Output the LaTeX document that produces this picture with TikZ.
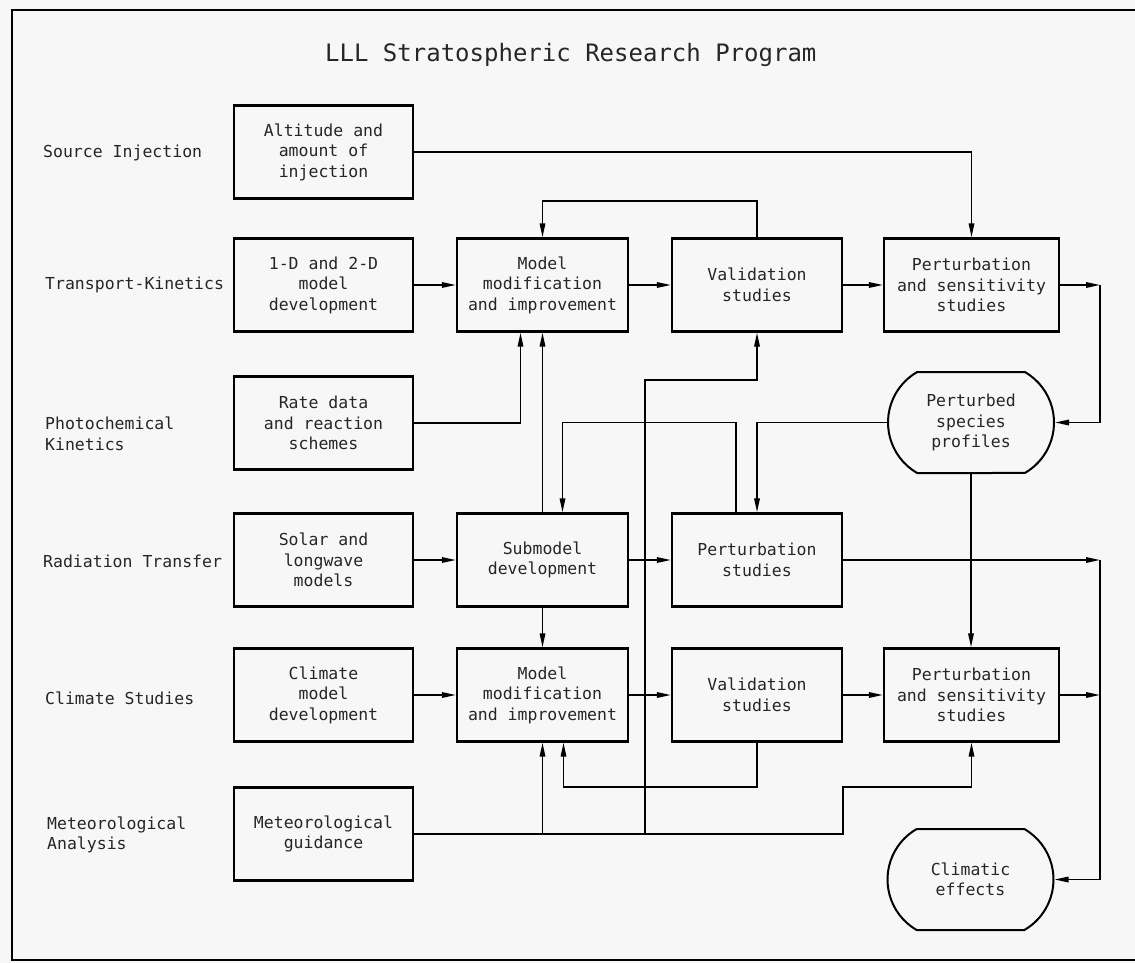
\documentclass[tikz,border=0pt]{standalone}
\usepackage{fontspec}
\setmonofont{DejaVu Sans Mono}
\usetikzlibrary{arrows.meta,shapes.misc,calc}
\begin{document}
\begin{tikzpicture}[x=1pt,y=-1pt,
  every node/.style={font=\ttfamily\fontsize{16.5}{20.5}\selectfont,text=black!85},
  box/.style={draw,line width=2.3pt,rectangle,minimum height=93pt,align=center,inner sep=2pt},
  colA/.style={box,minimum width=179pt},
  colB/.style={box,minimum width=171pt},
  colC/.style={box,minimum width=170pt},
  colD/.style={box,minimum width=175pt},
  barrel/.style={draw,line width=2pt,rounded rectangle,rounded rectangle arc length=120,
     minimum width=170pt,minimum height=101pt,align=center,inner sep=2pt},
  lbl/.style={anchor=west,align=left,inner sep=0pt},
  conn/.style={line width=1.6pt},
  arr/.style={conn,-{Triangle[length=14pt,width=5.5pt]}},
]
\useasboundingbox (0,0) rectangle (1135,963);
\fill[black!3] (-20,-20) rectangle (1160,990);
\draw[line width=1.6pt] (1160,10) -- (12,10) -- (12,960) -- (1160,960);

\node[font=\ttfamily\fontsize{24}{28}\selectfont,anchor=west,inner sep=0pt] (title) at (325,55) {LLL Stratospheric Research Program};

% row labels
\node[lbl] (lsrc) at (43,153) {Source Injection};
\node[lbl] (ltk) at (45,285) {Transport-Kinetics};
\node[lbl] (lpk) at (45,434) {Photochemical\\Kinetics};
\node[lbl] (lrt) at (43,561) {Radiation Transfer};
\node[lbl] (lcs) at (45,698) {Climate Studies};
\node[lbl] (lma) at (47,835) {Meteorological\\Analysis};

% column 1
\node[colA] (alt) at (323.5,152) {Altitude and\\amount of\\injection};
\node[colA] (t1) at (323.5,285) {1-D and 2-D\\model\\development};
\node[colA] (rate) at (323.5,423) {Rate data\\and reaction\\schemes};
\node[colA] (sol) at (323.5,560) {Solar and\\longwave\\models};
\node[colA] (cm) at (323.5,695) {Climate\\model\\development};
\node[colA] (met) at (323.5,834) {Meteorological\\guidance};

% column 2
\node[colB] (mm1) at (542.5,285) {Model\\modification\\and improvement};
\node[colB] (sub) at (542.5,560) {Submodel\\development};
\node[colB] (mm2) at (542.5,695) {Model\\modification\\and improvement};

% column 3
\node[colC] (v1) at (757,285) {Validation\\studies};
\node[colC] (pert) at (757,560) {Perturbation\\studies};
\node[colC] (v2) at (757,695) {Validation\\studies};

% column 4
\node[colD] (ps1) at (971.5,285) {Perturbation\\and sensitivity\\studies};
\node[barrel] (psp) at (971,422.5) {Perturbed\\species\\profiles};
\node[colD] (ps2) at (971.5,695) {Perturbation\\and sensitivity\\studies};
\node[barrel] (ce) at (970.5,879.5) {Climatic\\effects};

% helper coordinates
\coordinate (rx) at (1100,0);
\coordinate (loopt) at (0,201);
\coordinate (loopb) at (0,787);
\coordinate (mx) at (843,787);
\coordinate (vx) at (645,380);

% connectors
\draw[arr] (alt.east) -| (ps1.north);
\draw[arr] (t1.east) -- (mm1.west);
\draw[arr] (mm1.east) -- (v1.west);
\draw[arr] (v1.east) -- (ps1.west);
\draw[arr] (v1.north) -- (v1.north |- loopt) -| (mm1.north);
\draw[arr] (ps1.east) -- (ps1.east -| rx);
\draw[arr] (ps1.east -| rx) -- (psp.east -| rx) -- (psp.east);
\draw[arr] (psp.west) -| (pert.north);
\draw[arr] ([xshift=-21pt]pert.north) -- ([xshift=-21pt]pert.north |- psp.west) -| ([xshift=20pt]sub.north);
\draw[arr] (rate.east) -| ([xshift=-22pt]mm1.south);
\draw[arr] (sub.north) -- (mm1.south);
\draw[arr] (sol.east) -- (sub.west);
\draw[arr] (sub.east) -- (pert.west);
\draw[arr] (pert.east) -- (pert.east -| rx);
\draw[arr] (pert.east -| rx) -- (ce.east -| rx) -- (ce.east);
\draw[arr] (psp.south) -- (psp.south |- ps2.north);
\draw[arr] (sub.south) -- (mm2.north);
\draw[arr] (cm.east) -- (mm2.west);
\draw[arr] (mm2.east) -- (v2.west);
\draw[arr] (v2.east) -- (ps2.west);
\draw[arr] (ps2.east) -- (ps2.east -| rx);
\draw[arr] (v2.south) -- (v2.south |- loopb) -| ([xshift=21pt]mm2.south);
\draw[arr] (met.east) -| (mx) -| (ps2.south);
\draw[arr] (met.east -| mm2.south) -- (mm2.south);
\draw[arr] (met.east -| vx) -- (vx) -| (v1.south);
\end{tikzpicture}
\end{document}
